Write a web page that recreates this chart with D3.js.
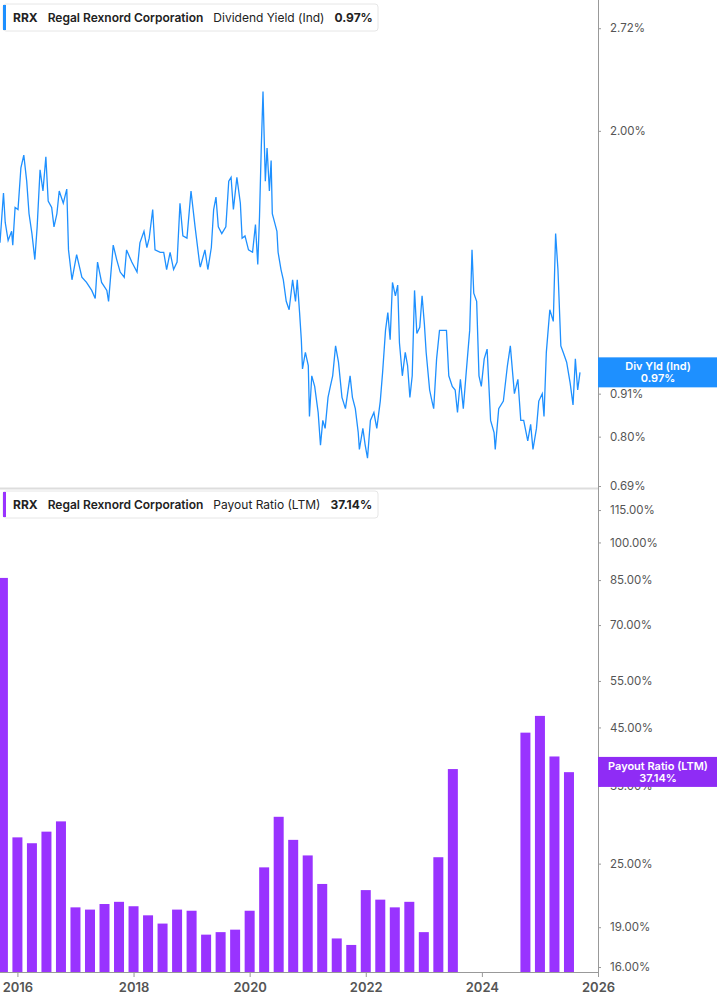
<!DOCTYPE html>
<html>
<head>
<meta charset="utf-8">
<script src="https://cdn.jsdelivr.net/npm/d3@7"></script>
<style>
body { margin: 0; background: #fff; font-family: Inter, "Noto Sans", sans-serif; }
</style>
</head>
<body>
<div id="chart"></div>
<script>
// dividend yield (decimal year, %)
var yieldDates = [2015.70,2015.76,2015.79,2015.84,2015.90,2015.92,2015.96,2016.01,2016.06,2016.11,2016.16,2016.20,2016.25,2016.30,2016.34,2016.39,2016.44,2016.49,2016.53,2016.59,2016.63,2016.68,2016.72,2016.79,2016.85,2016.88,2016.94,2017.02,2017.11,2017.19,2017.28,2017.34,2017.38,2017.45,2017.54,2017.57,2017.65,2017.71,2017.77,2017.84,2017.88,2017.97,2018.06,2018.11,2018.18,2018.23,2018.27,2018.33,2018.37,2018.46,2018.52,2018.57,2018.63,2018.69,2018.75,2018.80,2018.85,2018.92,2018.99,2019.06,2019.14,2019.15,2019.23,2019.28,2019.34,2019.38,2019.42,2019.46,2019.52,2019.59,2019.64,2019.68,2019.72,2019.78,2019.84,2019.87,2019.92,2019.98,2020.05,2020.10,2020.14,2020.17,2020.20,2020.23,2020.27,2020.30,2020.34,2020.37,2020.39,2020.44,2020.47,2020.49,2020.54,2020.58,2020.63,2020.68,2020.74,2020.79,2020.82,2020.86,2020.89,2020.91,2020.96,2021.01,2021.03,2021.07,2021.12,2021.18,2021.22,2021.26,2021.30,2021.35,2021.39,2021.43,2021.48,2021.53,2021.59,2021.65,2021.73,2021.77,2021.82,2021.87,2021.89,2021.95,2021.99,2022.03,2022.08,2022.14,2022.19,2022.25,2022.29,2022.34,2022.38,2022.42,2022.46,2022.50,2022.51,2022.55,2022.58,2022.63,2022.68,2022.72,2022.76,2022.80,2022.84,2022.88,2022.93,2022.97,2023.01,2023.04,2023.10,2023.14,2023.17,2023.22,2023.27,2023.33,2023.39,2023.43,2023.49,2023.54,2023.58,2023.63,2023.68,2023.73,2023.79,2023.83,2023.86,2023.91,2023.95,2023.99,2024.04,2024.09,2024.15,2024.21,2024.23,2024.29,2024.37,2024.44,2024.49,2024.56,2024.62,2024.67,2024.72,2024.79,2024.84,2024.88,2024.94,2024.98,2025.04,2025.07,2025.11,2025.17,2025.23,2025.27,2025.31,2025.36,2025.40,2025.46,2025.52,2025.57,2025.61,2025.65,2025.69];
var yieldValues = [1.43,1.66,1.52,1.44,1.48,1.42,1.59,1.58,1.79,1.86,1.72,1.56,1.47,1.36,1.50,1.78,1.67,1.85,1.62,1.59,1.50,1.56,1.67,1.61,1.68,1.40,1.28,1.38,1.29,1.27,1.24,1.21,1.35,1.27,1.24,1.20,1.42,1.36,1.31,1.29,1.40,1.35,1.31,1.43,1.48,1.41,1.45,1.58,1.40,1.39,1.39,1.32,1.39,1.32,1.35,1.61,1.46,1.45,1.67,1.50,1.34,1.33,1.40,1.32,1.41,1.58,1.64,1.50,1.47,1.50,1.72,1.74,1.58,1.74,1.61,1.45,1.46,1.40,1.39,1.51,1.34,1.55,1.90,2.25,1.72,1.90,1.67,1.83,1.56,1.51,1.48,1.39,1.32,1.28,1.20,1.17,1.28,1.20,1.28,1.16,1.07,0.98,1.03,0.99,0.85,0.96,0.93,0.86,0.78,0.84,0.82,0.90,0.93,0.96,1.05,1.00,0.90,0.87,0.96,0.90,0.87,0.81,0.77,0.82,0.78,0.75,0.84,0.86,0.82,0.89,0.97,1.10,1.16,1.07,1.27,1.23,1.22,1.26,1.06,0.96,1.03,0.99,0.90,0.96,1.24,1.09,1.11,1.22,1.12,1.03,0.92,0.89,0.87,1.01,1.10,1.10,1.10,0.96,0.93,0.92,0.86,0.95,0.87,0.97,1.10,1.40,1.23,1.20,0.96,0.93,1.01,1.04,0.84,0.81,0.77,0.87,0.89,0.99,1.05,0.91,0.95,0.84,0.84,0.79,0.83,0.77,0.82,0.89,0.91,0.85,1.03,1.17,1.13,1.47,1.32,1.05,1.03,1.00,0.94,0.88,1.01,0.92,0.97];

// payout ratio (quarter end, %)
var payoutDates = [2015.75,2016.00,2016.25,2016.50,2016.75,2017.00,2017.25,2017.50,2017.75,2018.00,2018.25,2018.50,2018.75,2019.00,2019.25,2019.50,2019.75,2020.00,2020.25,2020.50,2020.75,2021.00,2021.25,2021.50,2021.75,2022.00,2022.25,2022.50,2022.75,2023.00,2023.25,2023.50,2024.75,2025.00,2025.25,2025.50];
var payoutValues = [85.8,28.0,27.3,28.7,30.0,20.7,20.5,21.0,21.2,20.8,20.0,19.3,20.5,20.4,18.4,18.6,18.8,20.4,24.6,30.6,27.7,25.9,22.9,18.1,17.6,22.3,21.4,20.7,21.2,18.6,25.7,37.6,44.0,47.3,39.7,37.1];

var yieldTicks = [0.69, 0.80, 0.91, 2.00, 2.72];
var payoutTicks = [16, 19, 25, 35, 45, 55, 70, 85, 100, 115];
var yearTicks = [2016, 2018, 2020, 2022, 2024, 2026];

var width = 717, height = 1005, plotRight = 598;
var gray = "#555", blue = "#1e90ff", purple = "#9933ff";

var svg = d3.select("#chart").append("svg")
    .attr("width", width).attr("height", height);

var x = d3.scaleLinear().domain([2015.70, 2026.0]).range([0, plotRight]);
var yTop = d3.scaleLog().domain([0.688, 2.96]).range([487, 0]);
var yBot = d3.scaleLog().domain([15.66, 125.4]).range([972, 490]);

// panel separator and right axis line
svg.append("line").attr("x1", 0).attr("x2", plotRight).attr("y1", 488.5).attr("y2", 488.5)
    .attr("stroke", "#ddd").attr("stroke-width", 2);
svg.append("line").attr("x1", plotRight + 0.5).attr("x2", plotRight + 0.5).attr("y1", 0).attr("y2", 972)
    .attr("stroke", "#999");

function rightAxis(scale, ticks, fmt) {
    var g = svg.append("g").attr("transform", "translate(" + plotRight + ",0)")
        .call(d3.axisRight(scale).tickValues(ticks).tickFormat(fmt).tickSize(3).tickPadding(9));
    g.select(".domain").remove();
    g.selectAll("line").attr("stroke", "#999");
    g.selectAll("text").attr("fill", gray).style("font-size", "11.5px").style("font-family", "Inter, sans-serif");
}
rightAxis(yTop, yieldTicks, function (d) { return d.toFixed(2) + "%"; });
rightAxis(yBot, payoutTicks, function (d) { return d.toFixed(2) + "%"; });

// line
var line = d3.line().x(function (d, i) { return x(yieldDates[i]); }).y(function (d) { return yTop(d); });
svg.append("path").datum(yieldValues).attr("d", line)
    .attr("fill", "none").attr("stroke", blue).attr("stroke-width", 1.3);

// bars
svg.selectAll("rect.bar").data(payoutValues).enter().append("rect")
    .attr("class", "bar")
    .attr("x", function (d, i) { return x(payoutDates[i]) - 5; })
    .attr("width", 10)
    .attr("y", function (d) { return yBot(d); })
    .attr("height", function (d) { return 972 - yBot(d); })
    .attr("fill", purple);

// bottom axis
var xa = svg.append("g").attr("transform", "translate(0,972)")
    .call(d3.axisBottom(x).tickValues(yearTicks).tickFormat(d3.format("d")).tickSize(5).tickPadding(6));
xa.select(".domain").attr("stroke", "#999").attr("d", "M0,0.5H" + plotRight);
xa.selectAll("line").attr("stroke", "#999");
xa.selectAll("text").attr("fill", gray).style("font-size", "13px").style("font-weight", "600")
    .style("font-family", "Inter, sans-serif");

// legend boxes
function legend(y, color, label, val) {
    var g = svg.append("g").attr("transform", "translate(3," + y + ")");
    g.append("rect").attr("width", 375).attr("height", 27).attr("rx", 3)
        .attr("fill", "#fff").attr("stroke", "#e6e6e6");
    g.append("rect").attr("x", 0).attr("y", 1).attr("width", 3).attr("height", 25).attr("fill", color);
    var t = g.append("text").attr("x", 10).attr("y", 18).style("font-size", "12px")
        .style("font-family", "Inter, sans-serif").attr("fill", "#222");
    t.append("tspan").style("font-weight", "700").text("RRX");
    t.append("tspan").attr("dx", 10).style("font-weight", "600").text("Regal Rexnord Corporation");
    t.append("tspan").attr("dx", 10).text(label);
    t.append("tspan").attr("dx", 10).style("font-weight", "700").text(val);
}
legend(4, blue, "Dividend Yield (Ind)", "0.97%");
legend(491, purple, "Payout Ratio (LTM)", "37.14%");

// value badges (drawn over the axis labels they cover)
function badge(yc, color, l1, l2) {
    var g = svg.append("g").attr("transform", "translate(" + plotRight + "," + (yc - 15) + ")");
    g.append("rect").attr("width", width - plotRight).attr("height", 30).attr("fill", color);
    g.append("text").attr("x", 60).attr("y", 13).attr("text-anchor", "middle").attr("fill", "#fff")
        .style("font-size", "11px").style("font-weight", "600").style("font-family", "Inter, sans-serif").text(l1);
    g.append("text").attr("x", 60).attr("y", 25).attr("text-anchor", "middle").attr("fill", "#fff")
        .style("font-size", "11px").style("font-weight", "600").style("font-family", "Inter, sans-serif").text(l2);
}
badge(yTop(0.97), blue, "Div Yld (Ind)", "0.97%");
badge(yBot(37.14), "#8f2cf5", "Payout Ratio (LTM)", "37.14%");
</script>
</body>
</html>
